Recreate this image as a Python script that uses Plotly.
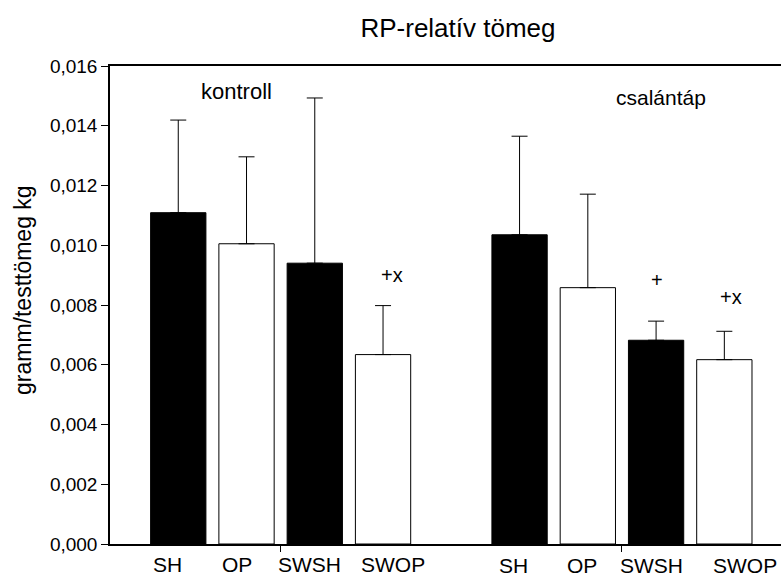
import plotly.graph_objects as go

# ---- data ----
categories = ["SH", "OP", "SWSH", "SWOP", "SH", "OP", "SWSH", "SWOP"]
groups = ["kontroll", "kontroll", "kontroll", "kontroll",
          "csalántáp", "csalántáp", "csalántáp", "csalántáp"]
means = [0.01109, 0.01005, 0.00940, 0.00634, 0.01035, 0.00858, 0.00682, 0.00617]
err_upper = [0.00310, 0.00291, 0.00553, 0.00164, 0.00330, 0.00313, 0.00064, 0.00095]
group_labels = ["kontroll", "csalántáp"]
sig_marks = ["", "", "", "+x", "", "", "+", "+x"]
y_ticks = [0.0, 0.002, 0.004, 0.006, 0.008, 0.010, 0.012, 0.014, 0.016]

# positions on the numeric x axis (a gap between the two groups)
positions = [1, 2, 3, 4, 6, 7, 8, 9]
bar_colors = ["black", "white", "black", "white", "black", "white", "black", "white"]

FONT = "Liberation Sans, Arial, Helvetica, sans-serif"

fig = go.Figure()
fig.add_trace(go.Bar(
    x=positions, y=means, width=0.81,
    marker=dict(color=bar_colors, line=dict(color="black", width=1)),
    error_y=dict(type="data", array=err_upper, arrayminus=[0] * len(means),
                 symmetric=False, color="black", thickness=1, width=8),
    showlegend=False, hoverinfo="x+y",
))

annotations = []
# category labels under the bars
label_shift = [-11, -10, -5, 10, -6, -6, -5, 21]
label_yshift = [-20, -20, -20, -20, -21, -21, -21, -21]
for p, c, dx, dy in zip(positions, categories, label_shift, label_yshift):
    annotations.append(dict(x=p, y=0, xref="x", yref="y", text=c, showarrow=False,
                            xshift=dx, yshift=dy, yanchor="middle", xanchor="center",
                            font=dict(family=FONT, size=21, color="black")))
# significance marks
sig_pos = {3: (4.13, 0.0090), 6: (8.02, 0.00884), 7: (9.10, 0.00828)}
for i, m in enumerate(sig_marks):
    if m:
        x, y = sig_pos[i]
        annotations.append(dict(x=x, y=y, xref="x", yref="y", text=m, showarrow=False,
                                xanchor="center",
                                font=dict(family=FONT, size=20, color="black")))
# group labels
annotations.append(dict(x=1.846, y=0.01513, xref="x", yref="y", text=group_labels[0],
                        showarrow=False, xanchor="center",
                        font=dict(family=FONT, size=22, color="black")))
annotations.append(dict(x=8.07, y=0.01493, xref="x", yref="y", text=group_labels[1],
                        showarrow=False, xanchor="center",
                        font=dict(family=FONT, size=21, color="black")))
# y axis title
annotations.append(dict(x=(23 - 110) / 671, y=(544 - 290) / 478, xref="paper", yref="paper",
                        yanchor="middle", xanchor="center",
                        text="gramm/testtömeg kg", textangle=-90, showarrow=False,
                        font=dict(family=FONT, size=23, color="black")))

fig.update_layout(
    width=781, height=577,
    margin=dict(l=110, r=0, t=66, b=33, pad=0),
    paper_bgcolor="white", plot_bgcolor="white",
    separators=", ",
    title=dict(text="RP-relatív tömeg", x=458 / 781, xref="container",
               y=1 - 28 / 577, yref="container", xanchor="center", yanchor="middle",
               font=dict(family=FONT, size=26, color="black")),
    xaxis=dict(range=[0, 9.83], showgrid=False, zeroline=False,
               showline=True, linecolor="black", linewidth=1.5, mirror=True,
               tickvals=[2.5, 7.5], ticks="outside", ticklen=6, tickcolor="black",
               showticklabels=False),
    yaxis=dict(range=[0, 0.016], showgrid=False, zeroline=False,
               showline=True, linecolor="black", linewidth=1.5,
               tickvals=y_ticks, tickformat=".3f", ticks="outside", ticklen=7,
               tickcolor="black",
               tickfont=dict(family=FONT, size=19, color="black")),
    annotations=annotations,
)

fig.write_html("out.html")
